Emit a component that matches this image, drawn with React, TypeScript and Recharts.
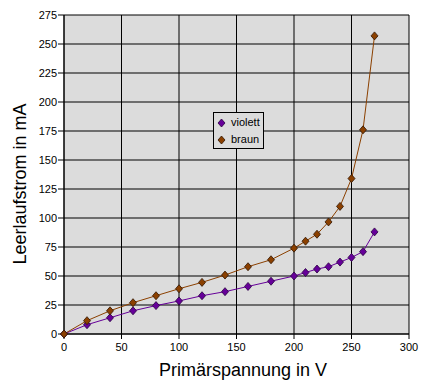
import React from "react";
import { LineChart, Line, XAxis, YAxis, CartesianGrid, Legend, Label } from "recharts";

const spannung = [0, 20, 40, 60, 80, 100, 120, 140, 160, 180, 200, 210, 220, 230, 240, 250, 260, 270];
const violett = [0, 8, 14, 20, 24.5, 28.5, 33, 36.5, 41, 45.5, 50, 53, 56, 58, 62, 66, 71, 88];
const braun = [0, 11.5, 20, 27, 33, 39, 44.5, 50.8, 58, 64, 74, 80, 86, 96.6, 110, 134, 176, 257];
const xTicks = [0, 50, 100, 150, 200, 250, 300];
const yTicks = [0, 25, 50, 75, 100, 125, 150, 175, 200, 225, 250, 275];

const data = spannung.map((u, i) => ({ u, violett: violett[i], braun: braun[i] }));

const VIOLET = "#660099";
const VIOLET_DARK = "#2a0040";
const BROWN = "#8b4000";
const BROWN_DARK = "#301400";
const FONT = "'Liberation Sans', Arial, sans-serif";

const makeDiamond = (fill: string, stroke: string) => (props: any) => {
  const { cx, cy, index } = props;
  if (cx == null || cy == null) return <g key={index} />;
  const w = 3.5, h = 4;
  return (
    <polygon
      key={index}
      points={`${cx},${cy - h} ${cx + w},${cy} ${cx},${cy + h} ${cx - w},${cy}`}
      fill={fill}
      stroke={stroke}
      strokeWidth={0.8}
    />
  );
};

const LegendBox = () => (
  <div
    style={{
      width: 51,
      height: 37,
      background: "#dcdcdc",
      border: "1px solid #000",
      fontFamily: FONT,
      fontSize: 11,
      color: "#000",
      position: "relative",
      boxSizing: "border-box",
    }}
  >
    {[
      { name: "violett", fill: VIOLET, stroke: VIOLET_DARK, top: 3 },
      { name: "braun", fill: BROWN, stroke: BROWN_DARK, top: 20 },
    ].map((it) => (
      <div key={it.name} style={{ position: "absolute", left: 3, top: it.top, height: 13, display: "flex", alignItems: "center" }}>
        <svg width={9} height={10} style={{ display: "block" }}>
          <polygon points="4.5,1 8,5 4.5,9 1,5" fill={it.fill} stroke={it.stroke} strokeWidth={0.8} />
        </svg>
        <span style={{ marginLeft: 5, lineHeight: "13px" }}>{it.name}</span>
      </div>
    ))}
  </div>
);

export default function App() {
  return (
    <div style={{ position: "absolute", left: 0, top: 0, width: 433, height: 391, background: "#fff" }}>
      <LineChart width={433} height={391} data={data} margin={{ top: 15, right: 24, left: 0, bottom: 0 }}>
        <CartesianGrid stroke="#000" strokeWidth={1} fill="#dcdcdc" fillOpacity={1} />
        <XAxis
          dataKey="u"
          type="number"
          domain={[0, 300]}
          ticks={xTicks}
          height={57}
          tickSize={5}
          tickMargin={4}
          stroke="#000"
          tick={{ fill: "#000", fontSize: 11, fontFamily: FONT }}
          interval={0}
        >
          <Label
            content={() => (
              <text x={243} y={376} textAnchor="middle" fontFamily={FONT} fontSize={18} fill="#000">
                Primärspannung in V
              </text>
            )}
          />
        </XAxis>
        <YAxis
          type="number"
          domain={[0, 275]}
          ticks={yTicks}
          width={64}
          tickSize={6}
          tickMargin={1}
          stroke="#000"
          tick={{ fill: "#000", fontSize: 11, fontFamily: FONT }}
          interval={0}
        >
          <Label
            content={() => (
              <text
                x={26}
                y={184}
                transform="rotate(-90, 26, 184)"
                textAnchor="middle"
                fontFamily={FONT}
                fontSize={18}
                fill="#000"
              >
                Leerlaufstrom in mA
              </text>
            )}
          />
        </YAxis>
        <Legend
          layout="horizontal"
          verticalAlign="middle"
          align="center"
          wrapperStyle={{ left: 213, top: 112, width: 51, height: 37 }}
          content={() => <LegendBox />}
        />
        <Line
          type="linear"
          dataKey="violett"
          stroke={VIOLET}
          strokeWidth={1}
          dot={makeDiamond(VIOLET, VIOLET_DARK)}
          isAnimationActive={false}
        />
        <Line
          type="linear"
          dataKey="braun"
          stroke={BROWN}
          strokeWidth={1}
          dot={makeDiamond(BROWN, BROWN_DARK)}
          isAnimationActive={false}
        />
      </LineChart>
    </div>
  );
}
